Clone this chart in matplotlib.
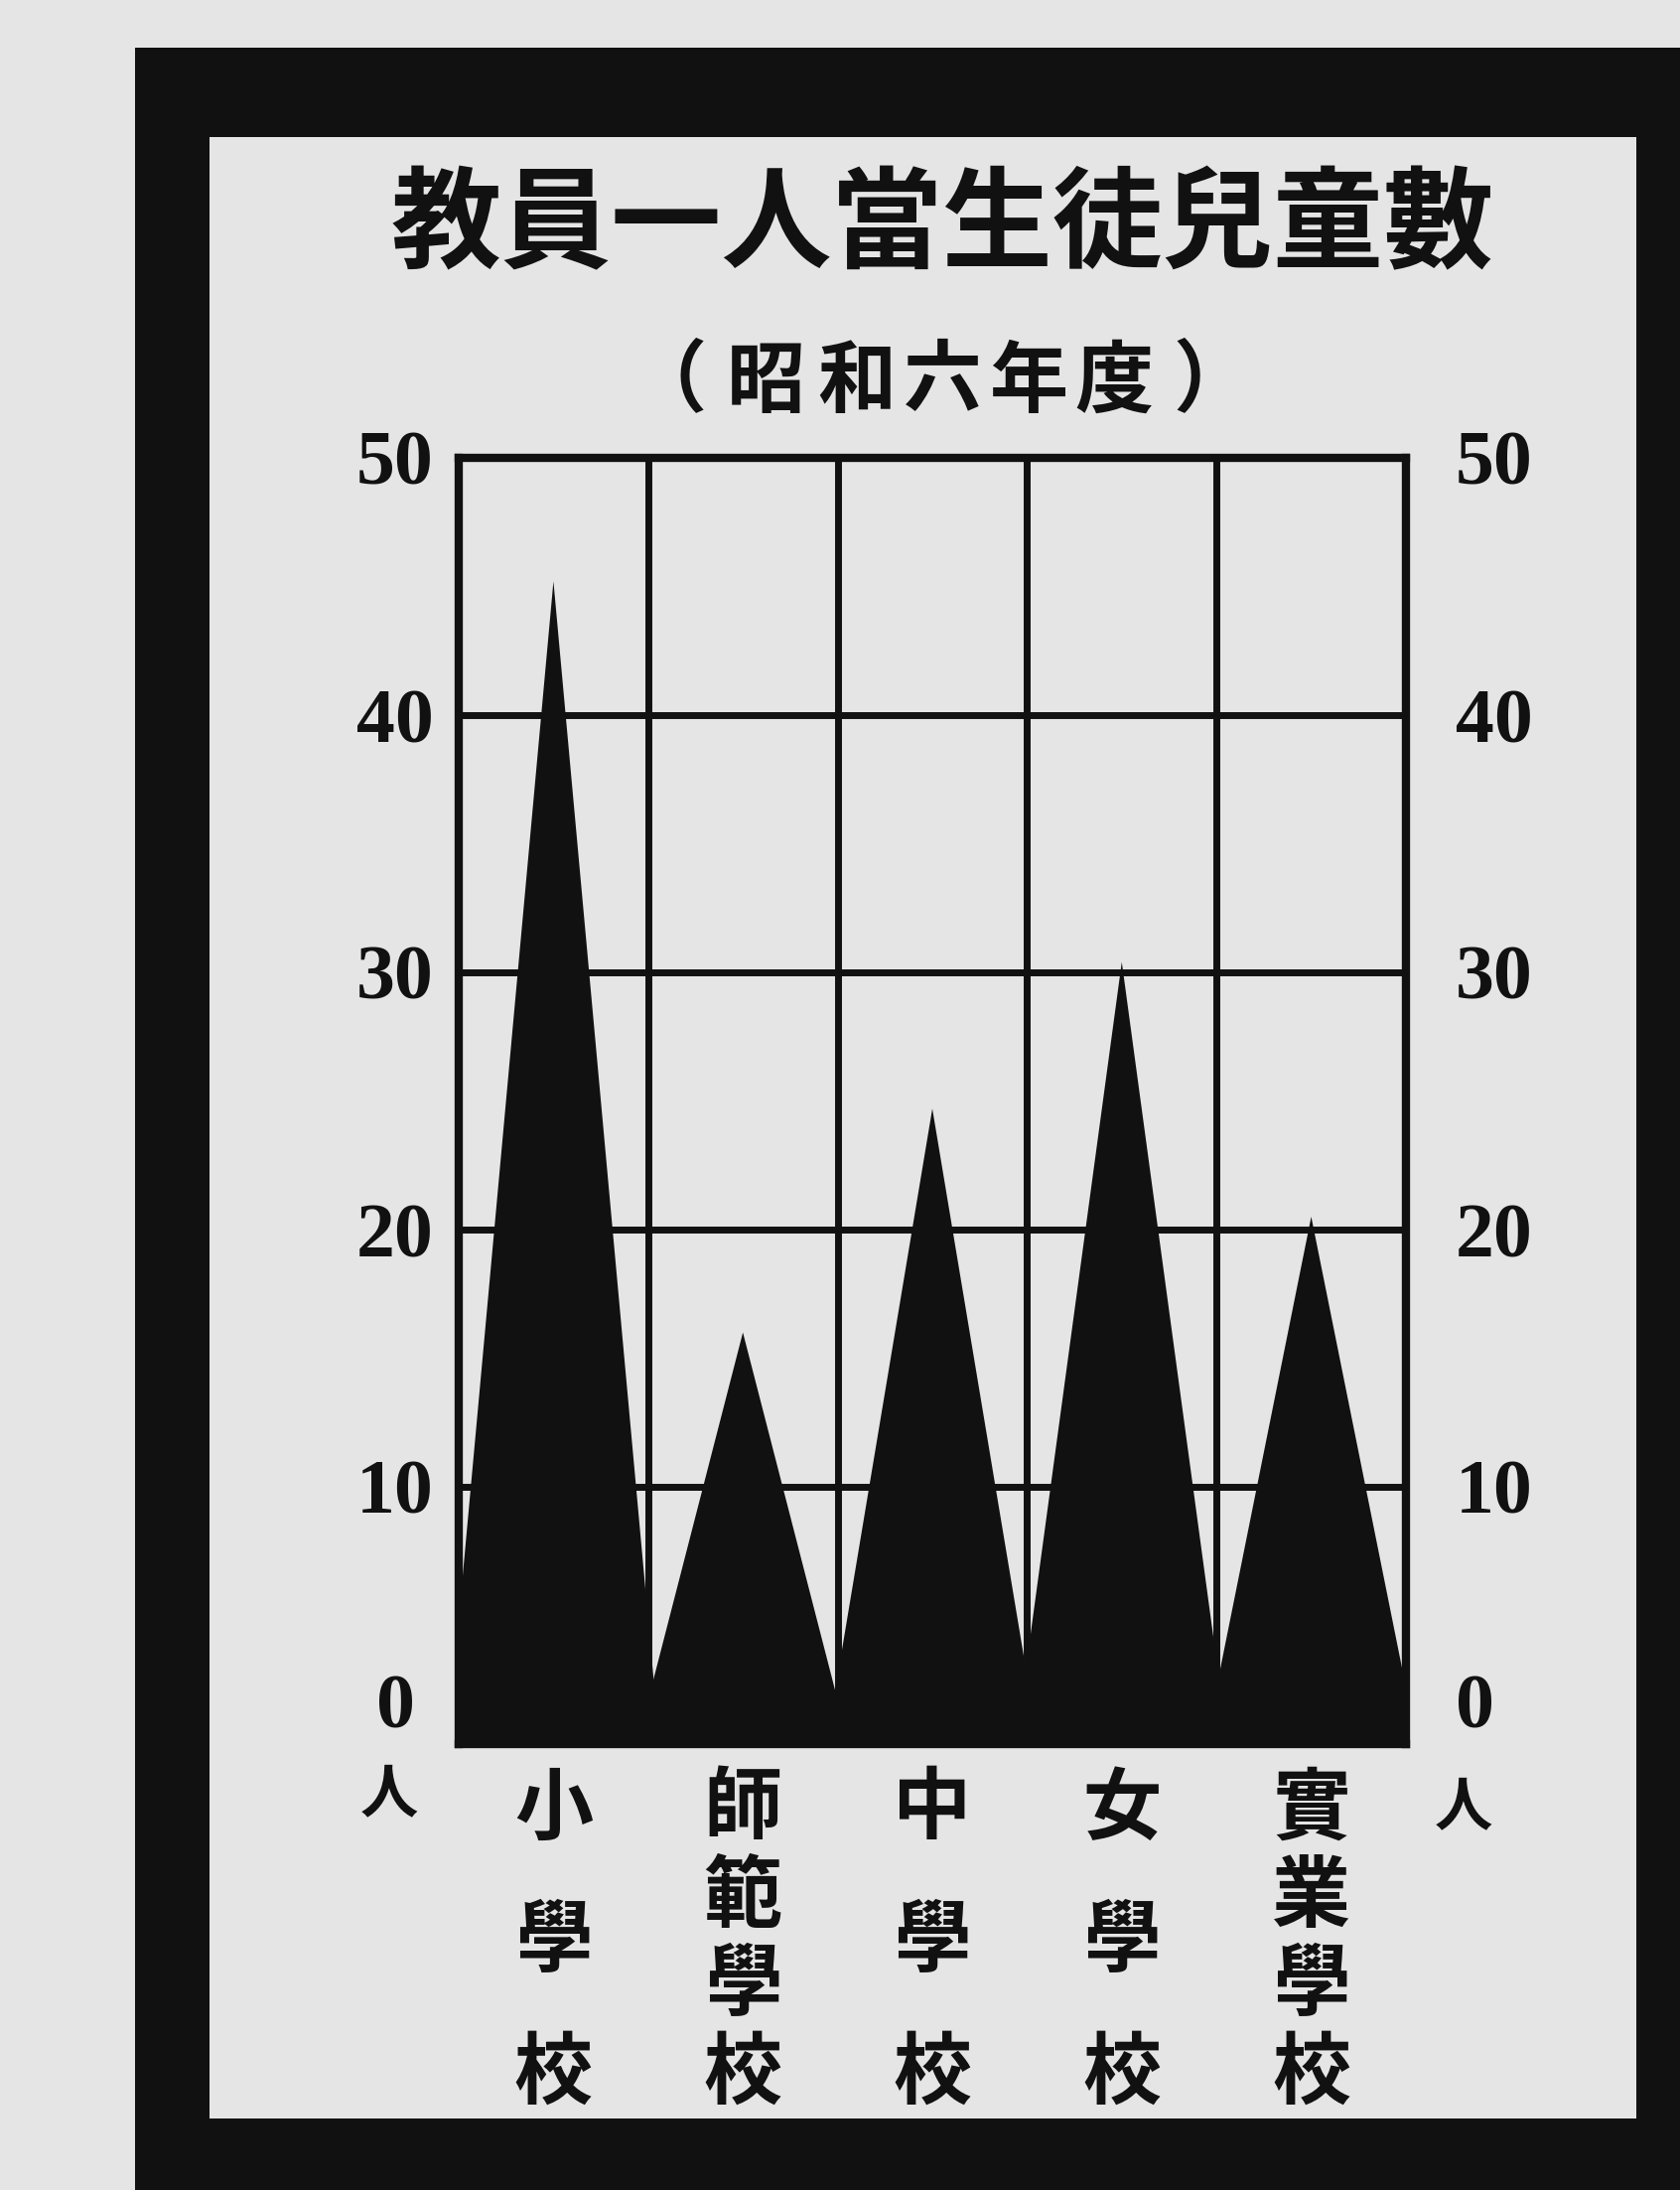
import numpy as np
import matplotlib.pyplot as plt
from matplotlib.patches import Rectangle
from matplotlib import transforms

# 教員一人當生徒兒童數 (昭和六年度)
categories = ['小學校', '師範學校', '中學校', '女學校', '實業學校']
values = [45.2, 16.0, 24.7, 30.4, 20.5]
yticks = [0, 10, 20, 30, 40, 50]

W, H = 1692, 2205
paper = '#e5e5e5'
ink = '#111111'
cjk = ['Noto Sans CJK JP', 'DejaVu Sans']
num_font = 'Liberation Serif'


def fx(px):
    return px / W


def fy(py):
    return 1 - py / H


fig = plt.figure(figsize=(W / 100, H / 100), dpi=100)
fig.patch.set_facecolor(paper)

# thick black frame around the sheet
fig.patches.append(Rectangle((fx(136), -0.02), 1.1, fy(48) + 0.02,
                             transform=fig.transFigure, facecolor=ink,
                             edgecolor='none', zorder=-2))
fig.patches.append(Rectangle((fx(211), fy(2133)), (1648 - 211) / W, (2133 - 138) / H,
                             transform=fig.transFigure, facecolor=paper,
                             edgecolor='none', zorder=-1))

ax = fig.add_axes([fx(462), fy(1756), (1416 - 462) / W, (1756 - 461) / H])
ax.set_facecolor(paper)

x = np.arange(len(categories))
half = 0.56
for xi, v in zip(x, values):
    ax.fill([xi - half, xi, xi + half], [0, v, 0], color=ink, lw=0, zorder=3)
ax.axhspan(0, 1.3, color=ink, lw=0, zorder=3)

ax.set_xlim(-0.5, len(categories) - 0.5)
ax.set_ylim(0, 50)
ax.set_xticks(x)
ax.set_xticklabels([])
ax.set_xticks(x[:-1] + 0.5, minor=True)
ax.set_yticks(yticks)
ax.grid(which='minor', axis='x', color=ink, lw=5)
ax.grid(which='major', axis='y', color=ink, lw=5)
ax.set_axisbelow(True)
ax.tick_params(which='both', length=0)
ax.tick_params(axis='y', labelleft=True, pad=46)
for s in ax.spines.values():
    s.set_linewidth(6)
    s.set_color(ink)
    s.set_zorder(4)

ax.set_yticklabels([str(t) for t in yticks], fontfamily=num_font,
                   fontweight='bold', fontsize=56, color=ink)
for lab in ax.get_yticklabels():
    lab.set_ha('center')
ax.get_yticklabels()[0].set_va('bottom')

ax2 = ax.secondary_yaxis('right')
ax2.set_yticks(yticks)
ax2.set_yticklabels([str(t) for t in yticks], fontfamily=num_font,
                    fontweight='bold', fontsize=56, color=ink)
ax2.tick_params(length=0, pad=36)
ax2.spines['right'].set_visible(False)
ax2.get_yticklabels()[0].set_va('bottom')

# title and subtitle
fig.text(fx(949), fy(229), '教員一人當生徒兒童數', family=cjk, fontweight='bold',
         fontsize=80, ha='center', va='center', color=ink)
sub_chars = '（昭和六年度）'
sub_x = [672, 771, 863, 949, 1036, 1122, 1221]
for ch, px in zip(sub_chars, sub_x):
    fig.text(fx(px), fy(385), ch, family=cjk, fontweight='bold', fontsize=57,
             ha='center', va='center', color=ink)

# unit marks under the zero labels
fig.text(fx(392), fy(1807), '人', family=cjk, fontweight='bold', fontsize=42,
         ha='center', va='center', color=ink)
fig.text(fx(1474), fy(1820), '人', family=cjk, fontweight='bold', fontsize=42,
         ha='center', va='center', color=ink)

# vertical category names
trans = transforms.blended_transform_factory(ax.transData, fig.transFigure)
for xi, name in zip(x, categories):
    ys = np.linspace(1822, 2088, len(name))
    for ch, py in zip(name, ys):
        ax.text(xi, fy(py), ch, transform=trans, family=cjk, fontweight='bold',
                fontsize=57, ha='center', va='center', color=ink, clip_on=False)

fig.savefig('out.png', dpi=100, facecolor=fig.get_facecolor())
